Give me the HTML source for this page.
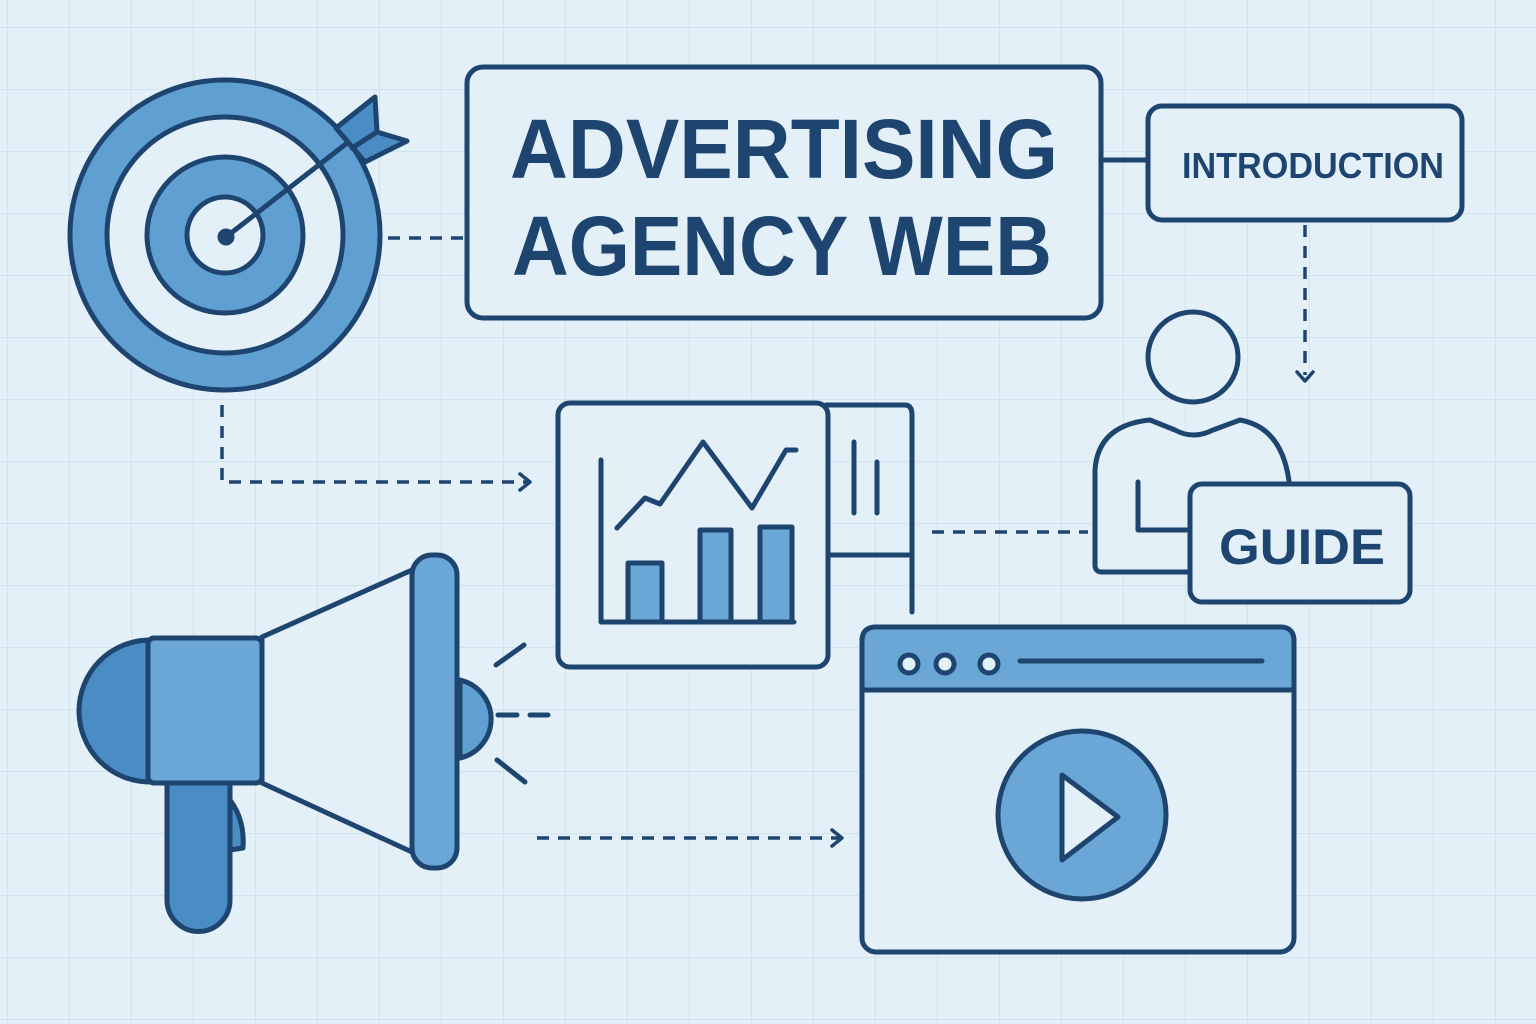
<!DOCTYPE html>
<html><head><meta charset="utf-8"><style>html,body{margin:0;padding:0;background:#e4f0f8}svg{display:block}</style></head>
<body>
<svg width="1536" height="1024" viewBox="0 0 1536 1024" xmlns="http://www.w3.org/2000/svg">
<defs>
<pattern id="g" width="62" height="62" patternUnits="userSpaceOnUse" x="8" y="28">
<path d="M62 0V62M0 62H62" stroke="#c9e0ee" stroke-width="1.5" fill="none"/>
</pattern>
</defs>
<rect width="1536" height="1024" fill="#e4f0f8"/>
<rect width="1536" height="1024" fill="url(#g)"/>
<g stroke="#1e4470" stroke-width="5" stroke-linecap="round" stroke-linejoin="round">
<!-- target -->
<circle cx="225" cy="235" r="155" fill="#5f9fd2"/>
<circle cx="225" cy="235" r="118" fill="#e4f0f8"/>
<circle cx="225" cy="235" r="78" fill="#5f9fd2"/>
<circle cx="225" cy="235" r="38" fill="#e4f0f8"/>
<circle cx="226" cy="237" r="6" fill="#1e4470"/>
<line x1="226" y1="237" x2="360" y2="133"/>
<path d="M336 128 L375 97 L377 132 L407 141 L365 162 Z" fill="#4a8cc4"/>
<line x1="352" y1="148" x2="377" y2="132"/>
<!-- title -->
<rect x="467" y="67" width="634" height="251" rx="16" fill="#e4f0f8"/>
<rect x="1148" y="106" width="314" height="114" rx="14" fill="#e4f0f8"/>
<line x1="1101" y1="160" x2="1148" y2="160"/>
<!-- dashed connectors -->
<g fill="none" stroke-width="3.5" stroke-dasharray="12 9" stroke-linecap="butt">
<line x1="388" y1="238" x2="467" y2="238"/>
<line x1="1305" y1="225" x2="1305" y2="375"/>
<path d="M222 405 V482 H528"/>
<line x1="932" y1="532" x2="1088" y2="532"/>
<line x1="537" y1="838" x2="840" y2="838"/>
</g>
<g fill="none" stroke-width="3.5">
<path d="M1297 372 L1305 381 L1313 372"/>
<path d="M520 474 L530 482 L520 490"/>
<path d="M832 830 L842 838 L832 846"/>
</g>
<!-- chart -->
<path d="M826 405 H905 Q912 405 912 415 V612" fill="none"/>
<line x1="830" y1="555" x2="912" y2="555"/>
<line x1="854" y1="442" x2="854" y2="513"/>
<line x1="877" y1="462" x2="877" y2="513"/>
<rect x="558" y="403" width="270" height="264" rx="12" fill="#e4f0f8"/>
<path d="M601 460 V622 H794" fill="none"/>
<rect x="628" y="563" width="34" height="59" fill="#6aa6d6"/>
<rect x="700" y="530" width="31" height="92" fill="#6aa6d6"/>
<rect x="760" y="527" width="32" height="95" fill="#6aa6d6"/>
<path d="M617 528 L645 498 L660 504 L703 442 L752 508 L786 450 L796 450" fill="none"/>
<!-- person -->
<circle cx="1193" cy="357" r="45" fill="#e4f0f8"/>
<path d="M1095 565 V470 Q1098 425 1150 420 L1175 430 Q1193 440 1213 430 L1240 420 Q1285 428 1290 490 V565 Q1290 572 1283 572 H1102 Q1095 572 1095 565 Z" fill="#e4f0f8"/>
<path d="M1138 482 V530 H1190" fill="none"/>
<rect x="1190" y="484" width="220" height="118" rx="12" fill="#e4f0f8"/>
<!-- megaphone -->
<path d="M230 800 Q245 820 243 848 L230 850 Z" fill="#4a8cc4"/>
<path d="M167 783 V900 A31 31 0 0 0 230 900 V783 Z" fill="#4a8cc4"/>
<path d="M150 640 A71 71 0 0 0 150 782 Z" fill="#4a8cc4"/>
<path d="M460 680 A40 40 0 0 1 460 758 Z" fill="#5f9fd2"/>
<path d="M262 637 L412 570 L412 852 L262 783 Z" fill="#e4f0f8"/>
<rect x="148" y="638" width="114" height="145" rx="6" fill="#6aa6d6"/>
<rect x="412" y="555" width="45" height="313" rx="20" fill="#6aa6d6"/>
<line x1="496" y1="665" x2="524" y2="645"/>
<line x1="498" y1="715" x2="517" y2="715"/>
<line x1="530" y1="715" x2="548" y2="715"/>
<line x1="497" y1="760" x2="525" y2="782"/>
<!-- browser -->
<rect x="862" y="627" width="432" height="325" rx="14" fill="#e4f0f8"/>
<path d="M862 690 V641 Q862 627 876 627 H1280 Q1294 627 1294 641 V690 Z" fill="#6aa6d6"/>
<circle cx="909" cy="664" r="9" fill="#e4f0f8"/>
<circle cx="945" cy="664" r="9" fill="#e4f0f8"/>
<circle cx="989" cy="664" r="9" fill="#e4f0f8"/>
<line x1="1020" y1="661" x2="1262" y2="661"/>
<circle cx="1082" cy="815" r="84" fill="#6aa6d6"/>
<path d="M1062 775 V860 L1118 817 Z" fill="#e4f0f8"/>
</g>
<g fill="#1e4470" font-family="'Liberation Sans',sans-serif" font-weight="bold" text-anchor="middle">
<text x="784" y="178" font-size="84" textLength="548" lengthAdjust="spacingAndGlyphs">ADVERTISING</text>
<text x="782" y="275" font-size="84" textLength="540" lengthAdjust="spacingAndGlyphs">AGENCY WEB</text>
<text x="1313" y="178" font-size="36" textLength="262" lengthAdjust="spacingAndGlyphs">INTRODUCTION</text>
<text x="1302" y="564" font-size="50" textLength="166" lengthAdjust="spacingAndGlyphs">GUIDE</text>
</g>
</svg>
</body></html>
